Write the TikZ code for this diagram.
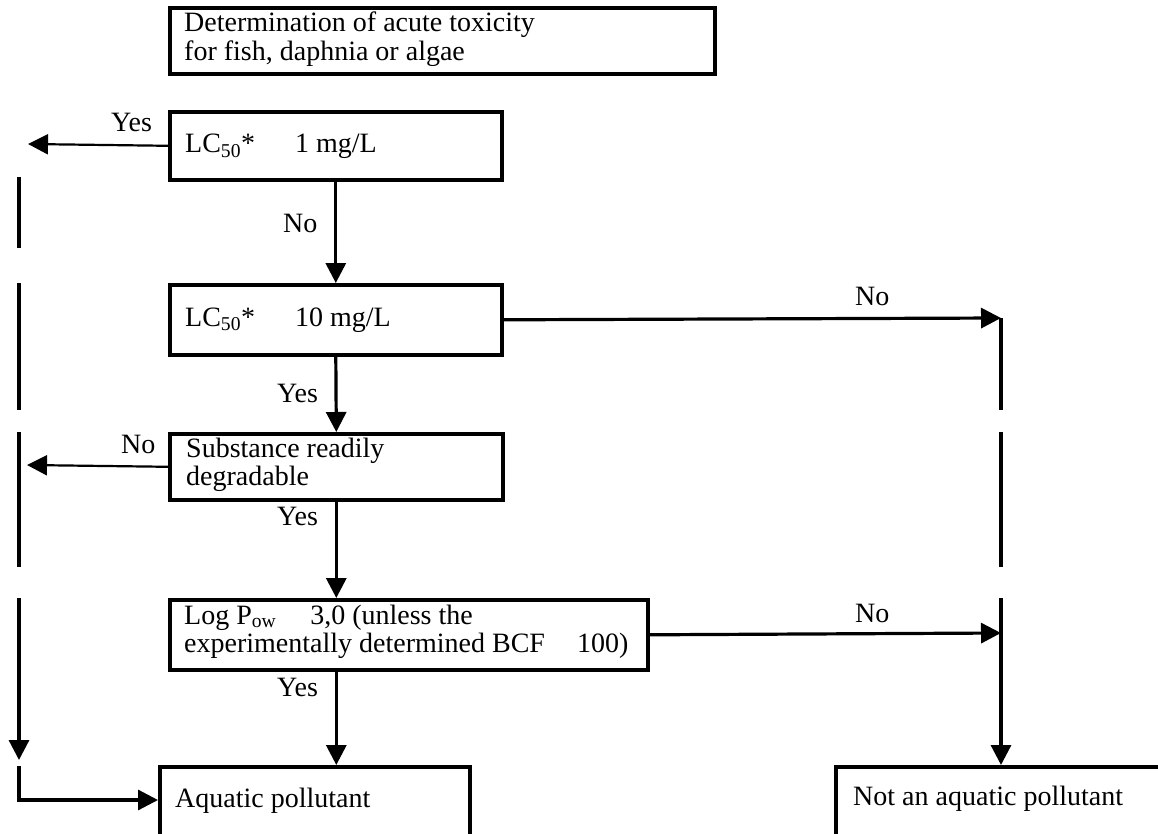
\documentclass[tikz,border=0pt]{standalone}
\usepackage{fontspec}
\setmainfont{Liberation Serif}
\usetikzlibrary{arrows.meta}
\begin{document}
\begin{tikzpicture}[x=1pt,y=-1pt,
  box/.style={draw, line width=3.6pt, inner sep=0pt, anchor=north west},
  txt/.style={anchor=base west, inner sep=0pt, font=\fontsize{28}{30}\selectfont},
  conn/.style={line width=3.2pt},
  thinconn/.style={line width=2.2pt},
  tip/.style={-{Triangle[length=20pt,width=20pt]}},
]
\useasboundingbox (0,0) rectangle (1158,834);
\clip (0,0) rectangle (1158,834);

% boxes
\node[box, minimum width=545pt, minimum height=66pt] (top) at (168,6) {};
\node[box, minimum width=332pt, minimum height=68pt] (b1) at (168,110) {};
\node[box, minimum width=332pt, minimum height=70pt] (b2) at (168,283) {};
\node[box, minimum width=333pt, minimum height=66pt] (b3) at (168,432) {};
\node[box, minimum width=478pt, minimum height=70pt] (b4) at (168,598) {};
\node[box, minimum width=310pt, minimum height=120pt] (aq) at (158,765) {};
\node[box, minimum width=400pt, minimum height=120pt] (naq) at (834,765) {};

% box texts
\node[txt] (t0a) at (184,32) {Determination of acute toxicity};
\node[txt] (t0b) at (184,61) {for fish, daphnia or algae};
\node[txt] (t1) at (185,153) {LC\textsubscript{50}*\hspace{40pt}1 mg/L};
\node[txt] (t2) at (185,326) {LC\textsubscript{50}*\hspace{40pt}10 mg/L};
\node[txt] (t3a) at (186,457) {Substance readily};
\node[txt] (t3b) at (186,485) {degradable};
\node[txt] (t4a) at (184,624) {Log P\textsubscript{ow}\hspace{34pt}3,0 (unless the};
\node[txt] (t4b) at (184,652) {experimentally determined BCF\hspace{32pt}100)};
\node[txt] (t5) at (175,807) {Aquatic pollutant};
\node[txt] (t6) at (853,805) {Not an aquatic pollutant};

% labels
\node[txt] (y1) at (111,132) {Yes};
\node[txt] (n1) at (283,233) {No};
\node[txt] (n2) at (855,305) {No};
\node[txt] (y2) at (277,402) {Yes};
\node[txt] (n3) at (121,453) {No};
\node[txt] (y3) at (277,525) {Yes};
\node[txt] (n4) at (855,622) {No};
\node[txt] (y4) at (277,696) {Yes};

% centre connectors
\draw[conn,tip] (b1.south) -- (b2.north);
\draw[conn,tip] (b2.south) -- (b3.north);
\draw[conn,tip] (b3.south) -- (b3.south |- b4.north);
\draw[conn,tip] (b3.south |- b4.south) -- (b3.south |- aq.north);

% left column
\coordinate (yesend) at (28,144);
\coordinate (noend) at (27,465);
\draw[thinconn,tip] (b1.west) -- (yesend);
\draw[thinconn,tip] (b3.west) -- (noend);
\coordinate (L1a) at (19,177); \coordinate (L1b) at (19,248);
\coordinate (L2a) at (19,283); \coordinate (L2b) at (19,410);
\coordinate (L3a) at (19,432); \coordinate (L3b) at (19,567);
\coordinate (L4a) at (19,598); \coordinate (L4b) at (19,760);
\coordinate (L5a) at (19,766); \coordinate (L5b) at (19,800);
\draw[conn] (L1a) -- (L1b);
\draw[conn] (L2a) -- (L2b);
\draw[conn] (L3a) -- (L3b);
\draw[conn,tip] (L4a) -- (L4b);
\draw[conn,tip] (L5a) -- (L5b) -- (aq.west |- L5b);

% right column
\coordinate (R2) at (1001,318);
\coordinate (R4) at (1001,633);
\coordinate (R2b) at (1001,410);
\coordinate (R3a) at (1001,432); \coordinate (R3b) at (1001,567);
\coordinate (R4a) at (1001,598);
\draw[conn,tip] (b2.east) -- (R2);
\draw[conn,tip] (b4.east) -- (R4);
\draw[conn] (R2) -- (R2b);
\draw[conn] (R3a) -- (R3b);
\draw[conn,tip] (R4a) -- (R4a |- naq.north);
\end{tikzpicture}
\end{document}
